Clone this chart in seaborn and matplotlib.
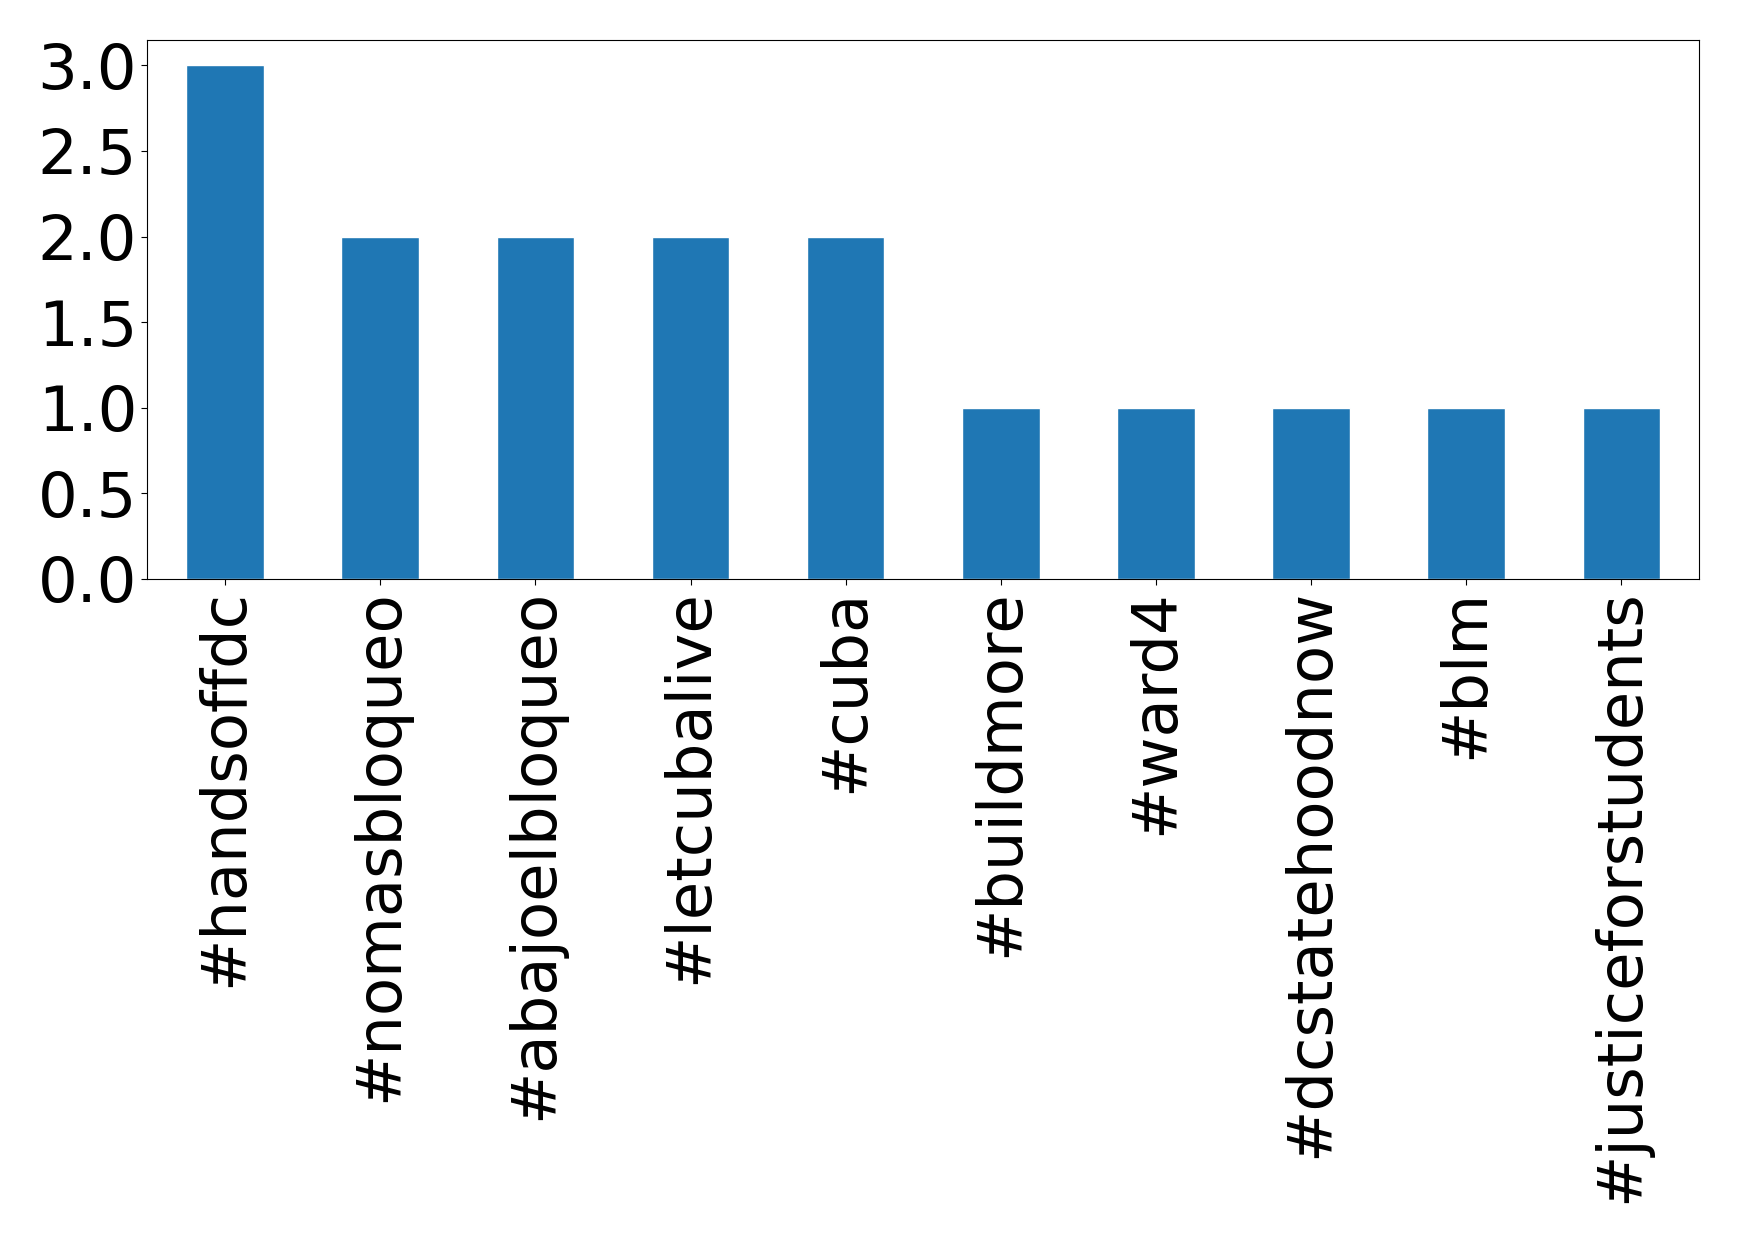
import matplotlib
matplotlib.use("Agg")
import matplotlib.pyplot as plt
import seaborn as sns
import pandas as pd

hashtags = ["#handsoffdc", "#nomasbloqueo", "#abajoelbloqueo", "#letcubalive", "#cuba",
            "#buildmore", "#ward4", "#dcstatehoodnow", "#blm", "#justiceforstudents"]
counts = [3, 2, 2, 2, 2, 1, 1, 1, 1, 1]

df = pd.DataFrame({"tag": hashtags, "count": counts})

sns.set_style("white")
plt.rcParams['font.family'] = ['DejaVu Sans']
plt.rcParams['text.color'] = 'black'
plt.rcParams['xtick.color'] = 'black'
plt.rcParams['ytick.color'] = 'black'
plt.rcParams['axes.labelcolor'] = 'black'

fig = plt.figure(figsize=(17.39, 12.42), dpi=100)
ax = fig.add_axes([0.0848, 0.534, 0.977 - 0.0848, 0.968 - 0.534])
sns.barplot(data=df, x="tag", y="count", color="#1f77b4", width=0.5, saturation=1, ax=ax)
ax.set_xlabel("")
ax.set_ylabel("")
ax.set_ylim(0, 3.15)
ax.set_xlim(-0.5, 9.5)
ax.set_yticks([0.0, 0.5, 1.0, 1.5, 2.0, 2.5, 3.0])
ax.set_yticklabels(["0.0", "0.5", "1.0", "1.5", "2.0", "2.5", "3.0"])
ax.tick_params(axis="x", labelsize=45, labelrotation=90, length=4, bottom=True,
               colors="black", labelcolor="black")
ax.tick_params(axis="y", labelsize=45, length=4, left=True,
               colors="black", labelcolor="black")
for s in ax.spines.values():
    s.set_visible(True)
    s.set_color("black")
    s.set_linewidth(0.8)
fig.savefig("out.png", dpi=100)
